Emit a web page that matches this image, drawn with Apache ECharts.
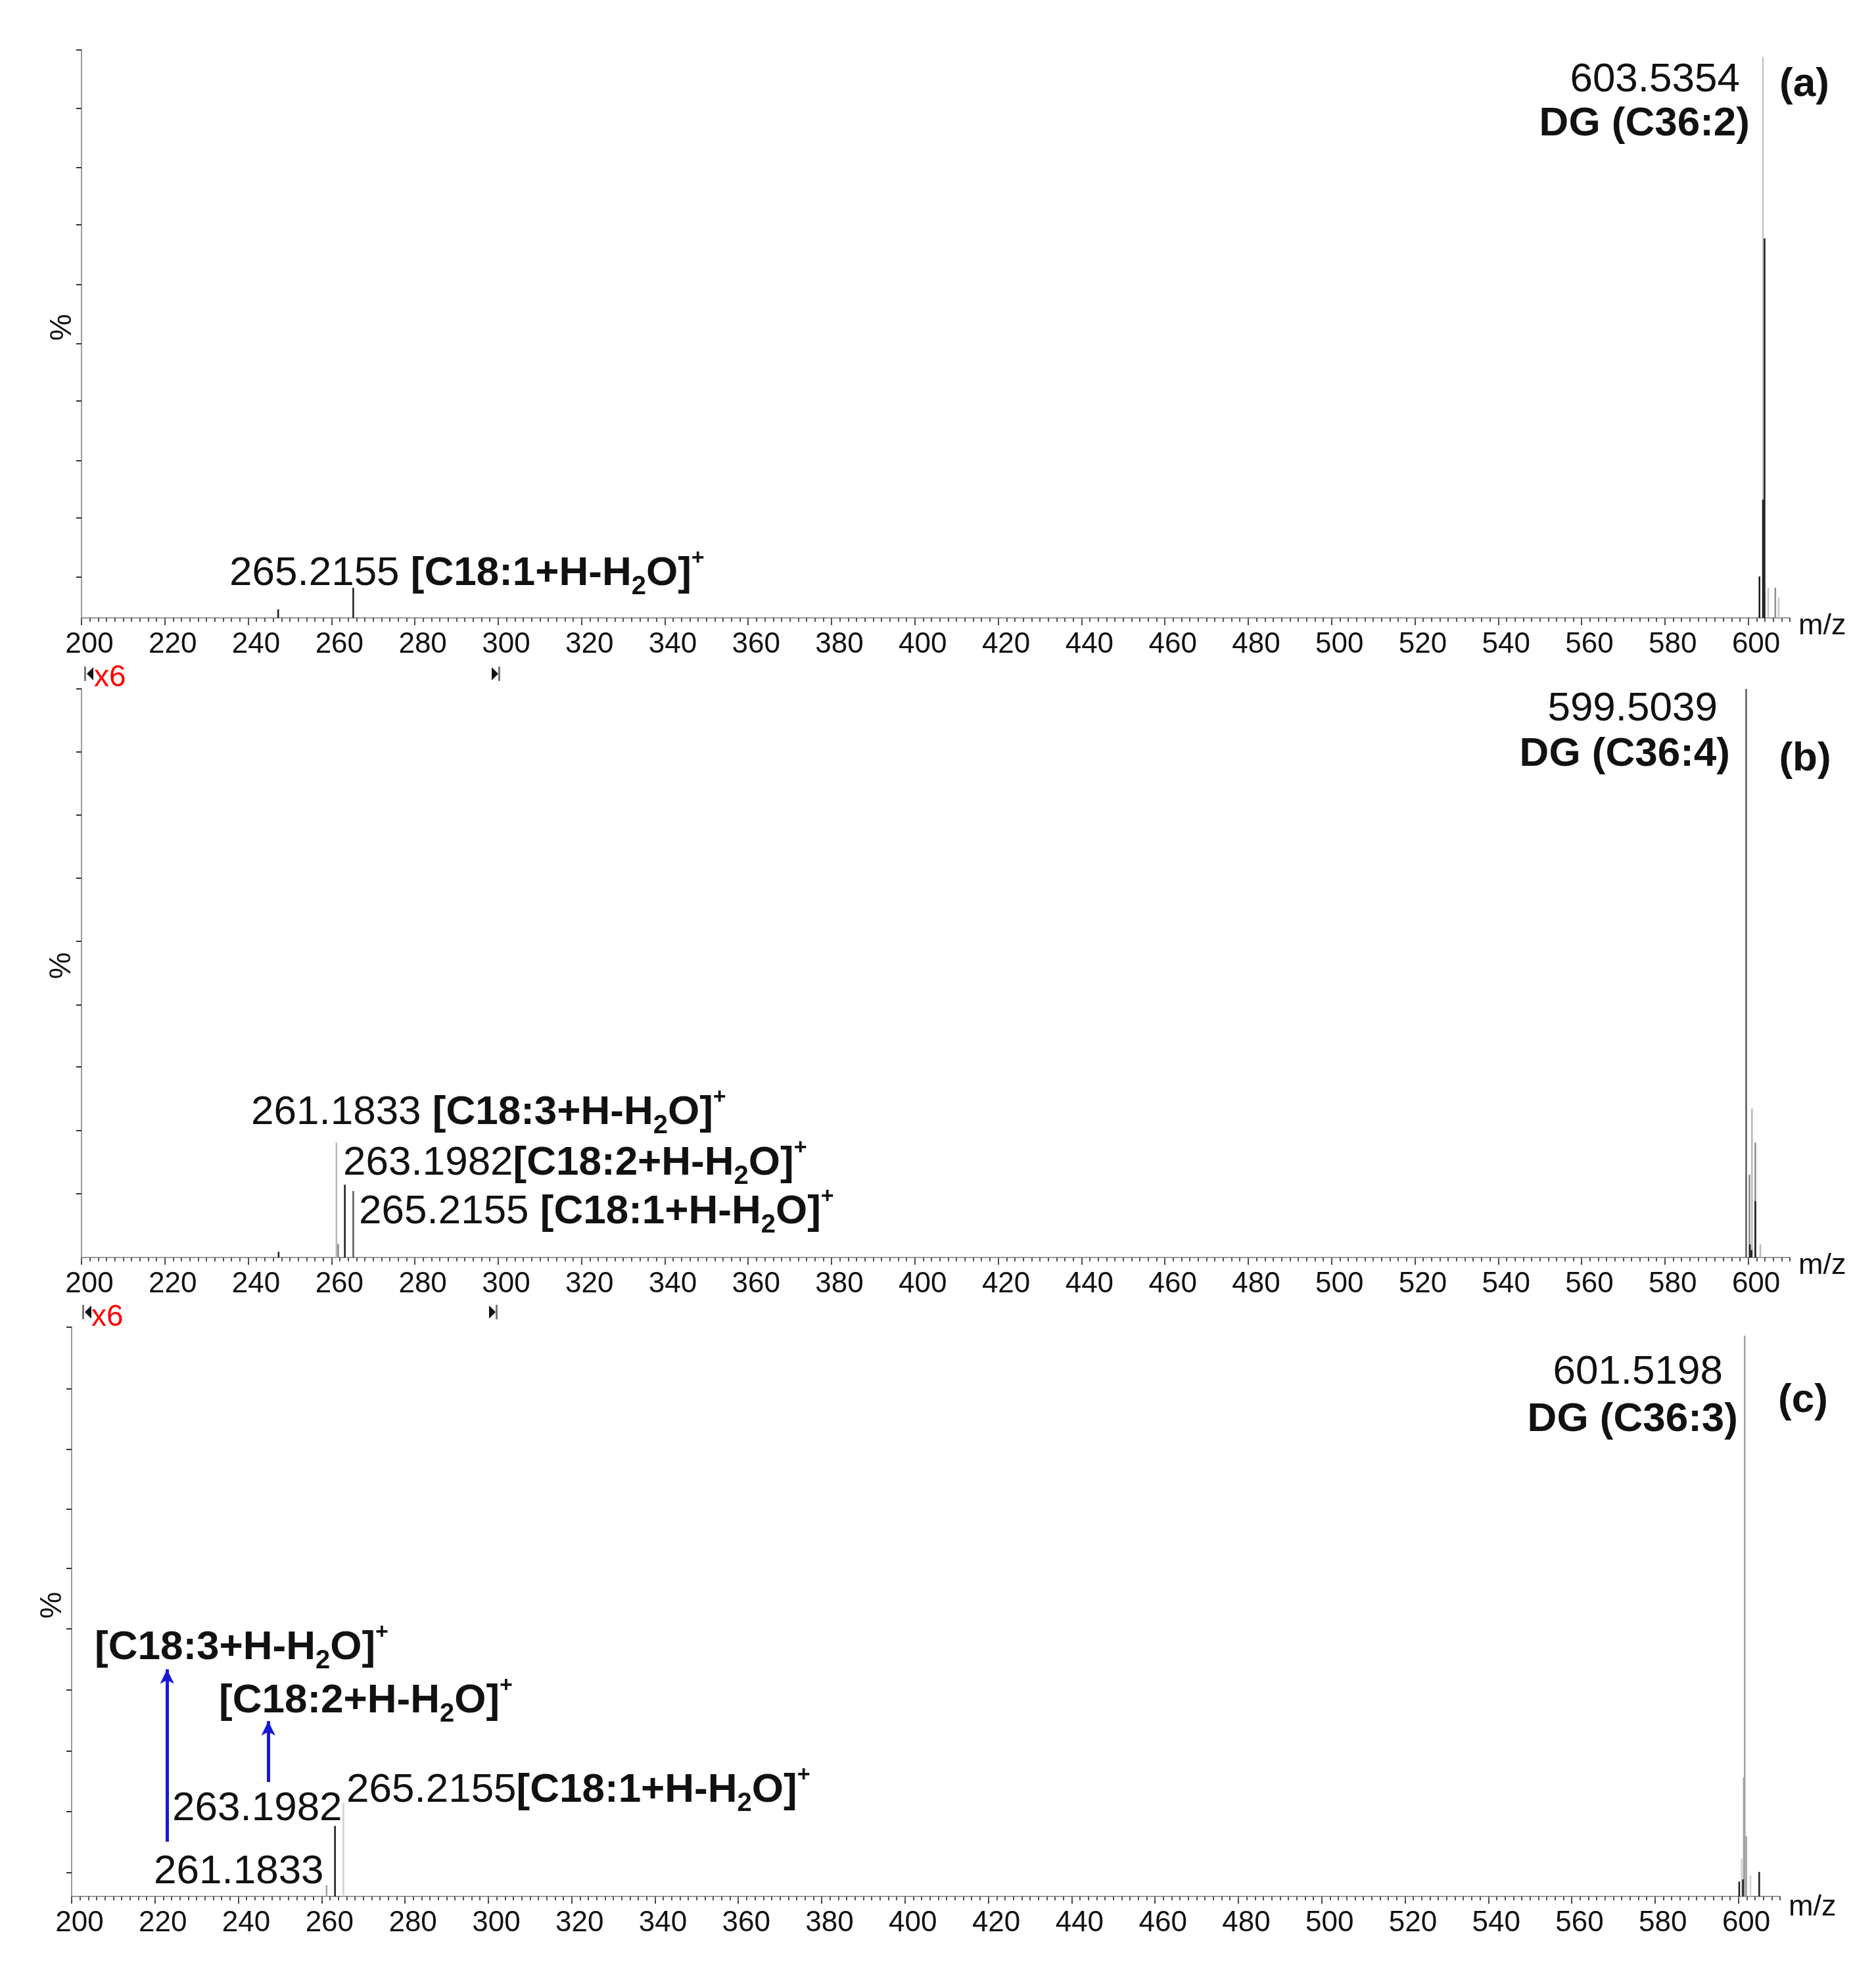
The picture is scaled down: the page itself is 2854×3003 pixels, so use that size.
<!DOCTYPE html>
<html>
<head>
<meta charset="utf-8">
<title>DG MS/MS spectra</title>
<style>html,body{margin:0;padding:0;background:#fff;}</style>
</head>
<body>
<div id="main" style="width:2854px;height:3003px;"></div>
<script src="https://cdn.jsdelivr.net/npm/echarts@6/dist/echarts.min.js"></script>
<script type="text/javascript">
// m/z range shared by the three spectra
var mzMin = 200, mzMax = 610;
var mzLabels = [200, 220, 240, 260, 280, 300, 320, 340, 360, 380, 400, 420, 440, 460, 480, 500, 520, 540, 560, 580, 600];

// peaks: [m/z, relative intensity %], split by the shade they were printed in
var aBlack = [[247.2, 1.5], [265.2155, 5.3], [602.7, 7.3], [603.54, 20.8], [603.92, 66.8]];
var aGray  = [[606.5, 5.3]];
var aLight = [[603.5354, 98.8], [604.8, 5.3], [607.3, 3.6]];

var bBlack = [[247.3, 1.0], [263.1982, 12.8], [600.4, 2.3], [600.8, 1.3], [601.7, 9.9]];
var bDark  = [[265.2155, 11.7], [599.5039, 100]];
var bGray  = [[261.6, 2.4], [600.3, 14.6], [601.7, 20.2]];
var bLight = [[261.1833, 20.2], [600.9, 26.2], [602.9, 2.3]];

var cBlack = [[263.1982, 12.4], [600.2, 2.6], [601.1, 3.0], [605.0, 4.3]];
var cGray  = [[261.1833, 2.0], [601.3, 20.9], [601.9, 10.6], [601.5198, 98.5]];
var cLight = [[265.2155, 16.4], [600.8, 6.6], [602.9, 3.7]];

// y tick positions (% of full scale) as drawn on each panel
var yTicksA = [100, 89.7, 79.3, 69.2, 58.7, 48.3, 38.2, 27.7, 17.6, 7.2];
var yTicksB = [100, 88.9, 77.8, 66.7, 55.6, 44.4, 33.5, 22.3, 11.2];
var yTicksC = [100, 89.2, 78.6, 68, 57.6, 47, 36.3, 25.5, 14.9, 4.2];

// blue arrows in (c): [m/z, from %, to %]
var arrowsC = [[222.9, 9.6, 39.9], [247.2, 20.1, 30.8]];

var FONT = '"Liberation Sans", Arial, sans-serif';
var myChart = echarts.init(document.getElementById('main'));

var grids = [
    {left: 124, top: 76, width: 2599, height: 864},
    {left: 124, top: 1048, width: 2599, height: 865},
    {left: 109, top: 2019, width: 2599, height: 866}
];

var xAxes = [], yAxes = [];
[yTicksA, yTicksB, yTicksC].forEach(function (ticks, i) {
    xAxes.push({
        type: 'value', gridIndex: i, position: 'bottom', min: mzMin, max: mzMax, interval: 20,
        axisLine: {lineStyle: {color: '#9a9a9a', width: 2}},
        axisTick: {length: 11, lineStyle: {color: '#444', width: 2}},
        axisLabel: {
            margin: 19, fontSize: 44, fontFamily: FONT, color: '#111',
            padding: [0, 0, 0, 24], showMaxLabel: false,
            formatter: function (v) { return mzLabels.indexOf(v) >= 0 ? String(v) : ''; }
        },
        splitLine: {show: false}
    });
    xAxes.push({
        type: 'value', gridIndex: i, position: 'bottom', min: mzMin, max: mzMax, interval: 2,
        axisLine: {show: false},
        axisTick: {length: 6, lineStyle: {color: '#555', width: 2}},
        axisLabel: {show: false},
        splitLine: {show: false}
    });
    yAxes.push({
        type: 'value', gridIndex: i, min: 0, max: 100,
        axisLine: {show: true, lineStyle: {color: '#9a9a9a', width: 2}},
        axisTick: {show: true, length: 8, customValues: ticks, lineStyle: {color: '#333', width: 2}},
        axisLabel: {show: false},
        splitLine: {show: false}
    });
});

function stick(params, api) {
    var p0 = api.coord([api.value(0), 0]);
    var p1 = api.coord([api.value(0), api.value(1)]);
    return {
        type: 'line',
        shape: {x1: p0[0], y1: p0[1], x2: p1[0], y2: p1[1]},
        style: {stroke: api.visual('color'), lineWidth: 2.5}
    };
}

function sticks(data, panel, color) {
    return {
        type: 'custom', xAxisIndex: panel * 2, yAxisIndex: panel,
        data: data, renderItem: stick, clip: false,
        itemStyle: {color: color}, silent: true
    };
}

var series = [
    sticks(aLight, 0, '#c4c4c4'), sticks(aGray, 0, '#8c8c8c'), sticks(aBlack, 0, '#1a1a1a'),
    sticks(bLight, 1, '#b8b8b8'), sticks(bGray, 1, '#8a8a8a'), sticks(bDark, 1, '#5a5a5a'), sticks(bBlack, 1, '#1a1a1a'),
    sticks(cLight, 2, '#d2d2d2'), sticks(cGray, 2, '#a2a2a2'), sticks(cBlack, 2, '#1a1a1a')
];

series[series.length - 1].markLine = {
    silent: true, animation: false,
    symbol: ['none', 'arrow'], symbolSize: [16, 22],
    lineStyle: {color: '#1818d8', width: 5, type: 'solid'},
    label: {show: false},
    data: arrowsC.map(function (a) {
        return [{coord: [a[0], a[1]]}, {coord: [a[0], a[2]]}];
    })
};

// rich text pieces for the fragment labels
var rich = {
    n: {fontFamily: FONT, fontSize: 62, fontWeight: 'normal', lineHeight: 80, fill: '#111'},
    b: {fontFamily: FONT, fontSize: 62, fontWeight: 'bold', lineHeight: 80, fill: '#111'},
    s: {fontFamily: FONT, fontSize: 40, fontWeight: 'bold', lineHeight: 40, verticalAlign: 'bottom', fill: '#111'},
    p: {fontFamily: FONT, fontSize: 34, fontWeight: 'bold', lineHeight: 50, verticalAlign: 'top', fill: '#111'}
};
function frag(n) { return '{b|[C18:' + n + '+H-H}{s|2}{b|O]}{p|+}'; }

function txt(x, y, text, opt) {
    opt = opt || {};
    return {
        type: 'text', x: x, y: y, rotation: opt.rot || 0, silent: true,
        style: {
            text: text, rich: rich, fill: opt.color || '#111',
            fontFamily: FONT, fontSize: opt.size || 62, fontWeight: opt.bold ? 'bold' : 'normal',
            textAlign: opt.align || 'left', textVerticalAlign: 'middle'
        }
    };
}

// magnification range markers (|◄ at 200, ►| at 300)
function leftMark(x, y) {
    return [
        {type: 'rect', shape: {x: x - 4, y: y - 11, width: 3, height: 22}, style: {fill: '#777'}},
        {type: 'polygon', shape: {points: [[x, y], [x + 10, y - 10], [x + 10, y + 10]]}, style: {fill: '#111'}}
    ];
}
function rightMark(x, y) {
    return [
        {type: 'polygon', shape: {points: [[x - 8, y - 10], [x + 2, y], [x - 8, y + 10]]}, style: {fill: '#111'}},
        {type: 'rect', shape: {x: x + 2, y: y - 11, width: 3, height: 22}, style: {fill: '#777'}}
    ];
}

var graphics = [
    // (a)
    txt(349, 873, '{n|265.2155} ' + frag(1)),
    txt(2647, 122, '603.5354', {align: 'right'}),
    txt(2662, 189, 'DG (C36:2)', {align: 'right', bold: true}),
    txt(2745, 129, '(a)', {align: 'center', bold: true}),
    txt(95, 498, '%', {size: 46, rot: Math.PI / 2, align: 'center'}),
    txt(2736, 953, 'm/z', {size: 45}),
    // (b)
    txt(382, 1693, '{n|261.1833} ' + frag(3)),
    txt(522, 1770, '{n|263.1982}' + frag(2)),
    txt(546, 1844, '{n|265.2155} ' + frag(1)),
    txt(2613, 1079, '599.5039', {align: 'right'}),
    txt(2632, 1148, 'DG (C36:4)', {align: 'right', bold: true}),
    txt(2746, 1155, '(b)', {align: 'center', bold: true}),
    txt(94, 1469, '%', {size: 46, rot: Math.PI / 2, align: 'center'}),
    txt(2736, 1926, 'm/z', {size: 45}),
    txt(143, 1031, 'x6', {size: 46, color: '#ff0000'}),
    // (c)
    txt(144, 2507, frag(3)),
    txt(333, 2588, frag(2)),
    txt(262, 2752, '263.1982'),
    txt(527, 2724, '{n|265.2155}' + frag(1)),
    txt(234, 2848, '261.1833'),
    txt(2621, 2088, '601.5198', {align: 'right'}),
    txt(2644, 2160, 'DG (C36:3)', {align: 'right', bold: true}),
    txt(2743, 2131, '(c)', {align: 'center', bold: true}),
    txt(80, 2442, '%', {size: 46, rot: Math.PI / 2, align: 'center'}),
    txt(2721, 2902, 'm/z', {size: 45}),
    txt(139, 2004, 'x6', {size: 46, color: '#ff0000'})
].concat(leftMark(132, 1025), rightMark(756, 1025), leftMark(129, 1996), rightMark(752, 1996));

myChart.setOption({
    backgroundColor: '#ffffff',
    animation: false,
    grid: grids,
    xAxis: xAxes,
    yAxis: yAxes,
    series: series,
    graphic: graphics
});
</script>
</body>
</html>
